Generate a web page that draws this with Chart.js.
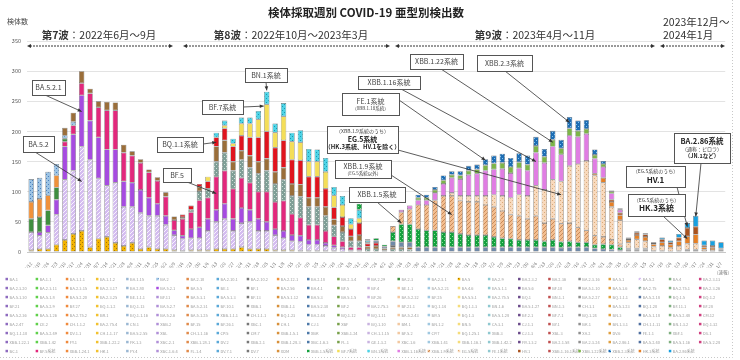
<!DOCTYPE html>
<html>
<head>
<meta charset="utf-8">
<script src="https://cdn.jsdelivr.net/npm/chart.js@4.4.1/dist/chart.umd.min.js"></script>
<style>
html, body { margin: 0; padding: 0; background: #fff; }
canvas { display: block; }
</style>
</head>
<body>
<canvas id="myChart" width="740" height="360"></canvas>
<script>
const FONT = "'Noto Sans CJK JP', 'Noto Sans', sans-serif";

// week of specimen collection
const weeks = [
  '6/6-6/12','6/13-6/19','6/20-6/26','6/27-7/3','7/4-7/10','7/11-7/17','7/18-7/24','7/25-7/31','8/1-8/7','8/8-8/14',
  '8/15-8/21','8/22-8/28','8/29-9/4','9/5-9/11','9/12-9/18','9/19-9/25','9/26-10/2','10/3-10/9','10/10-10/16','10/17-10/23',
  '10/24-10/30','10/31-11/6','11/7-11/13','11/14-11/20','11/21-11/27','11/28-12/4','12/5-12/11','12/12-12/18','12/19-12/25','12/26-1/1',
  '1/2-1/8','1/9-1/15','1/16-1/22','1/23-1/29','1/30-2/5','2/6-2/12','2/13-2/19','2/20-2/26','2/27-3/5','3/6-3/12',
  '3/13-3/19','3/20-3/26','3/27-4/2','4/3-4/9','4/10-4/16','4/17-4/23','4/24-4/30','5/1-5/7','5/8-5/14','5/15-5/21',
  '5/22-5/28','5/29-6/4','6/5-6/11','6/12-6/18','6/19-6/25','6/26-7/2','7/3-7/9','7/10-7/16','7/17-7/23','7/24-7/30',
  '7/31-8/6','8/7-8/13','8/14-8/20','8/21-8/27','8/28-9/3','9/4-9/10','9/11-9/17','9/18-9/24','9/25-10/1','10/2-10/8',
  '10/9-10/15','10/16-10/22','10/23-10/29','10/30-11/5','11/6-11/12','11/13-11/19','11/20-11/26','11/27-12/3','12/4-12/10','12/11-12/17',
  '12/18-12/24','12/25-12/31','1/1-1/7'
];

const yTicks = [0, 50, 100, 150, 200, 250, 300, 350];

// counts per lineage group, one value per week
const ba5 = [
  3,5,5,12,20,30,35,8,22,25,
  15,10,15,5,8,5,5,3,2,3,
  3,3,5,5,5,8,5,5,5,3,
  3,3,2,2,2,2,2,0,0,0,
  0,0,0,0,0,0,0,0,0,0,
  0,0,0,0,0,0,0,0,0,0,
  0,0,0,0,0,0,0,0,0,0,
  0,0,0,0,0,0,0,0,0,0,
  0,0,0];
const ba52 = [
  30,22,27,50,100,105,140,145,100,85,
  100,65,60,60,52,55,40,25,20,20,
  20,32,45,50,30,40,45,30,30,25,
  20,15,15,10,10,8,5,5,3,3,
  0,0,0,0,0,0,0,0,0,0,
  0,0,0,0,0,0,0,0,0,0,
  0,0,0,0,0,0,0,0,0,0,
  0,0,0,0,0,0,0,0,0,0,
  0,0,0];
const ba521 = [
  0,6,12,25,55,60,85,65,68,60,
  55,42,40,38,30,20,15,8,5,15,
  18,20,20,25,20,25,20,20,15,10,
  12,10,10,8,8,5,4,3,0,0,
  0,0,0,0,0,0,0,0,0,0,
  0,0,0,0,0,0,0,0,0,0,
  0,0,0,0,0,0,0,0,0,0,
  0,0,0,0,0,0,0,0,0,0,
  0,0,0];
const bf5 = [
  0,0,0,0,8,15,20,45,50,65,
  65,48,45,45,42,38,32,17,28,28,
  45,35,55,55,50,50,45,45,50,45,
  50,35,30,25,25,20,15,10,5,5,
  0,0,0,0,0,0,0,0,0,0,
  0,0,0,0,0,0,0,0,0,0,
  0,0,0,0,0,0,0,0,0,0,
  0,0,0,0,0,0,0,0,0,0,
  0,0,0];
const ba23 = [
  22,25,25,20,5,0,0,0,0,0,
  0,0,0,0,0,0,0,0,0,0,
  0,0,0,0,0,0,0,0,0,0,
  0,0,0,0,0,0,0,0,0,0,
  0,0,0,0,0,0,0,0,0,0,
  0,0,0,0,0,0,0,0,0,0,
  0,0,0,0,0,0,0,0,0,0,
  0,0,0,0,0,0,0,0,0,0,
  0,0,0];
const ba2121 = [
  28,30,25,20,0,0,0,0,0,0,
  0,0,0,0,0,0,0,0,0,0,
  0,0,0,0,0,0,0,0,0,0,
  0,0,0,0,0,0,0,0,0,0,
  0,0,0,0,0,0,0,0,0,0,
  0,0,0,0,0,0,0,0,0,0,
  0,0,0,0,0,0,0,0,0,0,
  0,0,0,0,0,0,0,0,0,0,
  0,0,0];
const ba2 = [
  38,35,39,19,5,6,0,0,0,0,
  0,0,0,0,0,0,0,0,0,0,
  0,0,0,0,0,0,0,0,0,0,
  0,0,0,0,0,0,0,0,0,0,
  0,0,0,0,0,0,0,0,0,0,
  0,0,0,0,0,0,0,0,0,0,
  0,0,0,0,0,0,0,0,0,0,
  0,0,0,0,0,0,0,0,0,0,
  0,0,0];
const ba275 = [
  0,0,0,0,0,0,0,0,0,0,
  0,0,0,0,0,0,0,0,0,4,
  15,15,25,30,30,30,25,30,35,30,
  35,30,35,30,30,25,18,15,10,10,
  5,5,3,5,5,4,0,0,0,0,
  0,0,0,0,0,0,0,0,0,0,
  0,0,0,0,0,0,0,0,0,0,
  0,0,0,0,0,0,0,0,0,0,
  0,0,0];
const ba5other = [
  0,0,0,0,13,15,20,8,10,14,
  13,13,7,6,5,6,7,6,3,0,
  7,0,25,20,15,15,20,20,20,20,
  20,20,20,15,15,15,10,10,8,10,
  4,5,3,3,3,4,0,0,0,0,
  0,0,0,0,0,0,0,0,0,0,
  0,0,0,0,0,0,0,0,0,0,
  0,0,0,0,0,0,0,0,0,0,
  0,0,0];
const bq11 = [
  0,0,0,0,0,0,0,0,0,0,
  0,0,0,0,0,0,0,0,4,7,
  5,12,15,20,25,25,30,40,45,40,
  45,40,40,35,35,30,20,15,12,20,
  5,5,0,0,0,0,0,0,0,0,
  0,0,0,0,0,0,0,0,0,0,
  0,0,0,0,0,0,0,0,0,0,
  0,0,0,0,0,0,0,0,0,0,
  0,0,0];
const bf7 = [
  0,0,0,0,0,0,0,0,0,0,
  0,0,0,0,0,0,0,0,0,0,
  0,8,0,5,5,20,23,30,45,25,
  40,30,30,25,25,28,20,20,8,8,
  2,0,0,0,0,0,0,0,0,0,
  0,0,0,0,0,0,0,0,0,0,
  0,0,0,0,0,0,0,0,0,0,
  0,0,0,0,0,0,0,0,0,0,
  0,0,0];
const bn1 = [
  0,0,0,0,0,0,0,0,0,0,
  0,0,0,0,0,0,0,0,0,0,
  0,0,8,8,8,10,10,14,21,15,
  22,15,20,21,20,23,14,15,10,14,
  3,0,0,2,0,0,0,0,0,0,
  0,0,0,0,0,0,0,0,0,0,
  0,0,0,0,0,0,0,0,0,0,
  0,0,0,0,0,0,0,0,0,0,
  0,0,0];
const xbb = [
  0,0,0,0,0,0,0,0,0,0,
  0,0,0,0,0,0,0,0,0,0,
  0,0,0,0,0,0,0,0,0,0,
  0,0,0,0,0,0,0,0,0,0,
  0,4,3,8,8,8,8,8,8,8,
  8,8,8,8,8,8,8,8,8,8,
  8,8,8,7,8,8,8,6,5,4,
  3,2,2,2,1,1,1,1,2,2,
  1,0,0];
const xbb15 = [
  0,0,0,0,0,0,0,0,0,0,
  0,0,0,0,0,0,0,0,0,0,
  0,0,0,0,0,0,0,0,0,0,
  0,0,0,0,0,0,0,0,0,10,
  2,4,3,15,30,30,30,28,28,25,
  25,22,20,20,20,17,15,14,12,12,
  12,10,12,10,10,8,8,6,8,8,
  5,2,2,2,1,1,0,1,2,2,
  0,0,0];
const xbb19 = [
  0,0,0,0,0,0,0,0,0,0,
  0,0,0,0,0,0,0,0,0,0,
  0,0,0,0,0,0,0,0,0,0,
  0,0,0,0,0,0,0,0,0,0,
  0,0,0,10,20,25,40,42,50,60,
  60,55,55,55,50,50,45,40,40,35,
  40,30,35,30,30,25,20,15,12,8,
  5,2,2,2,0,0,0,0,0,0,
  0,0,0];
const eg5 = [
  0,0,0,0,0,0,0,0,0,0,
  0,0,0,0,0,0,0,0,0,0,
  0,0,0,0,0,0,0,0,0,0,
  0,0,0,0,0,0,0,0,0,0,
  0,0,0,0,0,0,0,0,0,0,
  5,8,10,10,15,20,25,28,35,38,
  50,55,65,70,95,105,115,100,90,55,
  40,10,15,12,7,8,6,8,10,10,
  3,3,2];
const hk3 = [
  0,0,0,0,0,0,0,0,0,0,
  0,0,0,0,0,0,0,0,0,0,
  0,0,0,0,0,0,0,0,0,0,
  0,0,0,0,0,0,0,0,0,0,
  0,0,0,0,0,0,0,0,0,0,
  0,0,0,0,0,0,0,0,0,0,
  0,0,0,0,0,0,0,3,8,8,
  8,4,7,7,4,6,5,8,12,15,
  4,4,2];
const hv1 = [
  0,0,0,0,0,0,0,0,0,0,
  0,0,0,0,0,0,0,0,0,0,
  0,0,0,0,0,0,0,0,0,0,
  0,0,0,0,0,0,0,0,0,0,
  0,0,0,0,0,0,0,0,0,0,
  0,0,0,0,0,0,0,0,0,0,
  0,0,0,0,0,0,0,0,0,4,
  4,2,4,4,2,5,4,6,14,13,
  3,3,2];
const xbb116 = [
  0,0,0,0,0,0,0,0,0,0,
  0,0,0,0,0,0,0,0,0,0,
  0,0,0,0,0,0,0,0,0,0,
  0,0,0,0,0,0,0,0,0,0,
  0,0,0,0,4,6,8,8,12,20,
  25,28,35,37,42,42,45,41,44,42,
  55,45,55,45,50,45,45,25,18,10,
  5,2,2,2,1,0,0,0,0,0,
  0,0,0];
const xbb122 = [
  0,0,0,0,0,0,0,0,0,0,
  0,0,0,0,0,0,0,0,0,0,
  0,0,0,0,0,0,0,0,0,0,
  0,0,0,0,0,0,0,0,0,0,
  0,0,0,0,0,0,4,4,5,6,
  5,6,7,7,9,10,10,10,10,10,
  11,10,11,10,12,10,8,6,5,3,
  2,0,0,0,0,0,0,0,0,0,
  0,0,0];
const xbb23 = [
  0,0,0,0,0,0,0,0,0,0,
  0,0,0,0,0,0,0,0,0,0,
  0,0,0,0,0,0,0,0,0,0,
  0,0,0,0,0,0,0,0,0,0,
  0,0,0,0,0,0,5,5,5,8,
  6,7,8,8,10,13,15,15,15,15,
  15,13,15,14,19,17,15,9,5,2,
  1,0,0,0,0,0,0,0,0,0,
  0,0,0];
const ba286 = [
  0,0,0,0,0,0,0,0,0,0,
  0,0,0,0,0,0,0,0,0,0,
  0,0,0,0,0,0,0,0,0,0,
  0,0,0,0,0,0,0,0,0,0,
  0,0,0,0,0,0,0,0,0,0,
  0,0,0,0,0,0,0,0,0,0,
  0,0,0,0,0,0,0,0,0,0,
  0,0,1,0,0,3,3,6,8,18,
  8,9,10];

// names shown in the legend block under the chart
const lineageNames = [
  'BA.1','BA.1.1','BA.1.1.1','BA.1.1.2','BA.1.15','BA.2','BA.2.10','BA.2.10.1','BA.2.10.2','BA.2.12.1','BA.2.18','BA.2.3.4',
  'BA.2.29','BA.2.3','BA.2.3.1','BA.5','BA.2.9','BA.2.3.2','BA.2.36','BA.2.3.16','BA.5.1','BA.5.2','BA.4','BA.2.3.13',
  'BA.2.3.20','BA.2.3.11','BA.2.3.15','BA.2.3.17','BA.2.80','BA.5.2.1','BA.5.5','BE.1','BF.1','BA.2.56','BA.4.1','BF.5',
  'BF.4','BE.1.1','BA.5.2.21','BA.4.6','BA.5.1.1','BA.5.6','BF.10','BA.5.1.10','BA.5.1.6','BA.2.75','BA.2.75.1','BA.2.3.26',
  'BA.5.1.30','BA.5.1.8','BA.5.2.20','BA.2.3.25','BE.1.1.1','BF.11','BA.5.3.1','BA.5.1.3','BF.13','BA.5.1.12','BA.5.3','BA.5.1.5',
  'BF.26','BA.5.2.32','BF.25','BA.5.5.1','BA.2.75.5','BQ.1','BN.1.1','BA.5.2.27','BQ.1.1.1','BA.5.2.18','BQ.1.5','BQ.1.2',
  'BF.21','BA.5.2.9','BF.27','BQ.1.1.2','BQ.1.13','BA.5.2.7','BA.5.2.31','BF.10.1','XBB.1','XBB.1.1','BA.5.2.30','BF.2',
  'BA.2.75.3','BF.21.1','BQ.1.14','BQ.1.1.3','BN.1.6','BA.5.1.27','BN.1.3','CH.1.1','BA.5.1.23','BQ.1.20','BF.11.1','BF.28',
  'BA.5.2.36','BA.5.1.26','BA.2.75.2','BR.1','BQ.1.1.16','BA.5.2.6','BA.5.1.25','XBB.1.1.1','CH.1.1.1','BQ.1.23','BA.2.44','BQ.1.12',
  'BQ.1.11','BA.5.2.43','BR.5','BQ.1.3','BA.5.1.28','BF.2.1','BF.7.1','BQ.1.24','BN.3','BA.5.1.18','BA.5.2.48','CM.12',
  'BA.2.47','CE.2','CH.1.1.2','BA.2.75.4','CN.1','XBB.2','BF.15','BF.26.1','XBC.1','CH.1','CJ.1','XBF',
  'BQ.1.10','BM.1','BN.1.2','BN.5','CA.3.1','CJ.1.1','BY.1','BK.1','BN.1.3.1','CH.1.1.11','BN.1.3.2','BQ.1.32',
  'BQ.1.1.10','BA.5.2.49','DV.1.1','CH.1.1.17','BA.5.2.55','XBL','CH.1.1.16','CP.5','CM.7','XBB.1.5.1','XBK','XBB.1.24',
  'CH.1.1.15','BF.5.2','CP.7','BQ.1.25.1','XBB.3','CJ.1.3','XBL.3','XA.2','DV.6','FE.1.1','XBF.1','DS.1',
  'XBB.1.22.1','XBB.1.42','FY.1','XBB.1.22.2','FK.1.3','XBC.2.1','XBB.1.28.1','DV.2','XBB.2.1','XBB.1.28.3','XBC.1.6.3','FL.1',
  'GE.1.3.2','XBC.1.6','XBB.1.41','XBB.1.16.1','XBB.1.42.2','FR.1.3.2','BA.2.1.58','BA.2.3.24','BA.2.86.1','BA.5.2.40','BA.5.1.16','BA.5.2.28',
  'BC.1','BF.5系統','XBB.1.24.1','HK.1','FY.4','XBC.1.6.4','FL.1.4','DV.7.1','DV.7','XDM','XBB.1.5系統','BF.7系統',
  'BN.1系統','XBB.1.16系統','XBB.1.9系統','EG.5系統','FE.1系統','HV.1','XBB.1.16.1系統','XBB.1.22系統','XBB.2.3系統','HK.3系統','BA.2.86系統'
];

const legendPalette = ['#8e6bbf','#5fd04a','#f08a3c','#f2c12e','#9ab7d3','#b08fd8','#e08a4a','#5aa8d8','#777777','#d8903a',
  '#4d79a8','#78a04a','#c9b3e0','#f2c8a0','#a0c8e0','#f5dc7a','#8fc8d0','#6a4a8a','#c05050','#909090','#e0a040','#5070a0','#80b080','#d04080'];

function makePattern(base, ink, kind) {
  const c = document.createElement('canvas');
  c.width = 4; c.height = 4;
  const g = c.getContext('2d');
  g.fillStyle = base;
  g.fillRect(0, 0, 4, 4);
  g.fillStyle = ink;
  if (kind === 'hatch') {
    for (let i = 0; i < 4; i++) g.fillRect(i, 3 - i, 1, 1);
  } else {
    g.fillRect(0, 0, 1, 1);
    g.fillRect(2, 2, 1, 1);
  }
  return g.createPattern(c, 'repeat');
}

// [label, data, colour, pattern ink, pattern kind] bottom to top
const series = [
  ['BA.5', ba5, '#F2B300', '#A87400', 'dots'],
  ['BA.5.2', ba52, '#D4BCF0', '#F8F2FE', 'hatch'],
  ['BA.5.2.1', ba521, '#A64BE0'],
  ['BF.5系統', bf5, '#E2287C'],
  ['BA.2.3', ba23, '#3F8E3F'],
  ['BA.2.12.1', ba2121, '#F0913A'],
  ['BA.2', ba2, '#9CC3E4', '#4A7EBB', 'dots'],
  ['BA.2.75', ba275, '#7F9E96', '#D0E0D8', 'dots'],
  ['BA.5系統その他', ba5other, '#9A6E3A'],
  ['BQ.1.1', bq11, '#E0141E'],
  ['BF.7系統', bf7, '#F4DE58'],
  ['BN.1系統', bn1, '#4DD3E6', '#1A9AB0', 'dots'],
  ['XBB', xbb, '#6F89A8'],
  ['XBB.1.5系統', xbb15, '#14A03E', '#8BE39A', 'dots'],
  ['XBB.1.9系統', xbb19, '#F3BE90', '#C98A58', 'hatch'],
  ['EG.5系統', eg5, '#F8D9BC', '#D8A878', 'dots'],
  ['HK.3系統', hk3, '#E57F25'],
  ['HV.1', hv1, '#A9521E'],
  ['XBB.1.16系統', xbb116, '#E07DE3'],
  ['XBB.1.22系統', xbb122, '#7DB548'],
  ['XBB.2.3系統', xbb23, '#1E6DB3', '#7FC4F2', 'dots'],
  ['BA.2.86系統', ba286, '#18A0E0']
];

const datasets = series.map(([label, data, color, ink, kind]) => ({
  label: label,
  data: data,
  backgroundColor: ink ? makePattern(color, ink, kind) : color,
  borderColor: 'rgba(60,60,60,0.75)',
  borderWidth: (c) => (c.raw ? 0.6 : 0),
  borderSkipped: false,
  barPercentage: 0.64,
  categoryPercentage: 1.0
}));

const waves = [
  { parts: [['第7波', true], ['：2022年6月～9月', false]], cx: 99, from: 27, to: 173 },
  { parts: [['第8波', true], ['：2022年10月～2023年3月', false]], cx: 291, from: 183, to: 390 },
  { parts: [['第9波', true], ['：2023年4月～11月', false]], cx: 535, from: 395, to: 655 },
  { parts: [], cx: 0, from: 660, to: 725 }
];

const callouts = [
  { box: [32, 80, 33, 15], text: [['BA.5.2.1', 7]], from: [45, 95], bar: 6, val: 233 },
  { box: [23, 136, 31, 16], text: [['BA.5.2', 7]], from: [35, 152], bar: 6, val: 117 },
  { box: [163, 168, 28, 14], text: [['BF.5', 7]], from: [187, 182], bar: 22, val: 97 },
  { box: [157, 137, 46, 15], text: [['BQ.1.1系統', 7]], from: [203, 144], bar: 22, val: 182 },
  { box: [202, 100, 41, 14], text: [['BF.7系統', 7]], from: [243, 107], bar: 28, val: 242, dx: -3 },
  { box: [245, 68, 42, 14], text: [['BN.1系統', 7]], from: [266, 82], bar: 28, val: 268 },
  { box: [342, 93, 57, 22], text: [['FE.1系統', 7], ['（XBB.1.18系統）', 4.5]], from: [399, 100], bar: 54, val: 152 },
  { box: [358, 76, 62, 13], text: [['XBB.1.16系統', 7]], from: [401, 89], bar: 60, val: 150 },
  { box: [410, 54, 53, 15], text: [['XBB.1.22系統', 7]], from: [441, 69], bar: 62, val: 182 },
  { box: [477, 55, 55, 16], text: [['XBB.2.3系統', 7]], from: [505, 71], bar: 64, val: 215 },
  { box: [327, 126, 71, 27], text: [['（XBB.1.9系統のうち）', 5], ['EG.5系統', 7, true], ['（HK.3系統、HV.1を除く）', 6, true]], from: [398, 150], bar: 63, val: 95 },
  { box: [335, 160, 56, 18], text: [['XBB.1.9系統', 7], ['（EG.5系統以外）', 4.5]], from: [391, 175], bar: 50, val: 62 },
  { box: [349, 187, 56, 15], text: [['XBB.1.5系統', 7]], from: [377, 202], bar: 44, val: 48 },
  { box: [674, 133, 56, 30], text: [['BA.2.86系統', 7.5, true], ['（通称：ピロラ）', 5], ['（JN.1など）', 5.5, true]], from: [701, 163], bar: 79, val: 59 },
  { box: [626, 166, 59, 21], text: [['（EG.5系統のうち）', 5], ['HV.1', 8, true]], from: [677, 187], bar: 78, val: 42 },
  { box: [628, 194, 57, 22], text: [['（EG.5系統のうち）', 5], ['HK.3系統', 8, true]], from: [663, 216], bar: 78, val: 22 }
];

function arrowHead(ctx, x, y, ang, len, wid) {
  ctx.beginPath();
  ctx.moveTo(x, y);
  ctx.lineTo(x - len * Math.cos(ang) + wid * Math.sin(ang), y - len * Math.sin(ang) - wid * Math.cos(ang));
  ctx.lineTo(x - len * Math.cos(ang) - wid * Math.sin(ang), y - len * Math.sin(ang) + wid * Math.cos(ang));
  ctx.closePath();
  ctx.fill();
}

function legendColor(name, k) {
  const ds = datasets.find(d => d.label === name);
  return ds ? ds.backgroundColor : legendPalette[k % legendPalette.length];
}

const decor = {
  id: 'decor',
  afterDraw(chart) {
    const ctx = chart.ctx;
    const xs = chart.scales.x, ys = chart.scales.y;
    ctx.save();
    ctx.textBaseline = 'middle';

    // title
    ctx.fillStyle = '#222';
    ctx.textAlign = 'center';
    ctx.font = 'bold 11.5px ' + FONT;
    ctx.fillText('検体採取週別 COVID-19 亜型別検出数', 366, 13);

    // axis title
    ctx.textAlign = 'left';
    ctx.font = '7px ' + FONT;
    ctx.fillStyle = '#444';
    ctx.fillText('検体数', 7, 21);

    // wave labels and arrows
    waves.forEach(w => {
      let total = 0;
      w.parts.forEach(([t, b]) => {
        ctx.font = (b ? 'bold ' : '') + '10.5px ' + FONT;
        total += ctx.measureText(t).width;
      });
      let x = w.cx - total / 2;
      ctx.fillStyle = '#333';
      w.parts.forEach(([t, b]) => {
        ctx.font = (b ? 'bold ' : '') + '10.5px ' + FONT;
        ctx.fillText(t, x, 35);
        x += ctx.measureText(t).width;
      });
      ctx.strokeStyle = '#333';
      ctx.lineWidth = 1;
      ctx.setLineDash([2, 1]);
      ctx.beginPath();
      ctx.moveTo(w.from + 3, 46);
      ctx.lineTo(w.to - 3, 46);
      ctx.stroke();
      ctx.setLineDash([]);
      ctx.fillStyle = '#333';
      arrowHead(ctx, w.from, 46, Math.PI, 4, 2);
      arrowHead(ctx, w.to, 46, 0, 4, 2);
    });
    ctx.font = '10.5px ' + FONT;
    ctx.fillStyle = '#333';
    ctx.fillText('2023年12月～', 663, 22);
    ctx.fillText('2024年1月', 663, 35);

    // callout lines
    ctx.strokeStyle = '#333';
    ctx.fillStyle = '#333';
    ctx.lineWidth = 0.8;
    callouts.forEach(c => {
      const tx = xs.getPixelForValue(c.bar) + (c.dx || 0);
      const ty = ys.getPixelForValue(c.val);
      ctx.beginPath();
      ctx.moveTo(c.from[0], c.from[1]);
      ctx.lineTo(tx, ty);
      ctx.stroke();
      arrowHead(ctx, tx, ty, Math.atan2(ty - c.from[1], tx - c.from[0]), 4, 1.8);
    });

    // callout boxes
    ctx.textAlign = 'center';
    callouts.forEach(c => {
      const [bx, by, bw, bh] = c.box;
      ctx.fillStyle = '#fff';
      ctx.fillRect(bx, by, bw, bh);
      ctx.strokeStyle = '#555';
      ctx.lineWidth = 1;
      ctx.strokeRect(bx + 0.5, by + 0.5, bw, bh);
      const lh = c.text.map(t => t[1] * 1.25);
      const sum = lh.reduce((a, b) => a + b, 0);
      let yy = by + bh / 2 - sum / 2;
      c.text.forEach((t, i) => {
        ctx.font = (t[2] ? 'bold ' : '') + t[1] + 'px ' + FONT;
        ctx.fillStyle = t[2] ? '#222' : '#444';
        ctx.fillText(t[0], bx + bw / 2, yy + lh[i] / 2);
        yy += lh[i];
      });
    });

    // note under the last week
    ctx.font = '4.5px ' + FONT;
    ctx.fillStyle = '#777';
    ctx.fillText('（速報）', 723, 272);

    // legend grid
    ctx.textAlign = 'left';
    ctx.font = '4px ' + FONT;
    lineageNames.forEach((name, k) => {
      const col = k % 24, row = Math.floor(k / 24);
      const x = 5.5 + col * 30.15, y = 279 + row * 9;
      ctx.fillStyle = legendColor(name, k);
      ctx.fillRect(x, y - 1.2, 2.5, 2.5);
      ctx.fillStyle = '#9c9c9c';
      ctx.fillText(name, x + 4, y);
    });

    // frame
    ctx.strokeStyle = '#c8c8c8';
    ctx.lineWidth = 1;
    ctx.setLineDash([1, 2]);
    ctx.beginPath();
    ctx.moveTo(732.5, 0);
    ctx.lineTo(732.5, 357.5);
    ctx.lineTo(0, 357.5);
    ctx.stroke();
    ctx.setLineDash([]);
    ctx.restore();
  }
};

new Chart(document.getElementById('myChart'), {
  type: 'bar',
  data: { labels: weeks, datasets: datasets },
  options: {
    responsive: false,
    animation: false,
    devicePixelRatio: 1,
    layout: { padding: { left: 5, right: 14.8, top: 41, bottom: 92 } },
    plugins: {
      legend: { display: false },
      title: { display: false },
      tooltip: { enabled: false }
    },
    scales: {
      x: {
        stacked: true,
        grid: { display: false },
        border: { display: true, color: '#c8c8c8' },
        ticks: {
          autoSkip: false,
          minRotation: 50,
          maxRotation: 50,
          padding: 1,
          color: '#777',
          font: { size: 4.5, family: FONT }
        },
        afterFit: (s) => { s.height = 16; }
      },
      y: {
        stacked: true,
        min: yTicks[0],
        max: yTicks[yTicks.length - 1],
        afterBuildTicks: (s) => { s.ticks = yTicks.map(v => ({ value: v })); },
        grid: { color: '#dcdcdc', lineWidth: 0.8, drawTicks: false },
        border: { display: false },
        ticks: { padding: 6, color: '#555', font: { size: 5.5, family: FONT } },
        afterFit: (s) => { s.width = 22; }
      }
    }
  },
  plugins: [decor]
});
</script>
</body>
</html>
